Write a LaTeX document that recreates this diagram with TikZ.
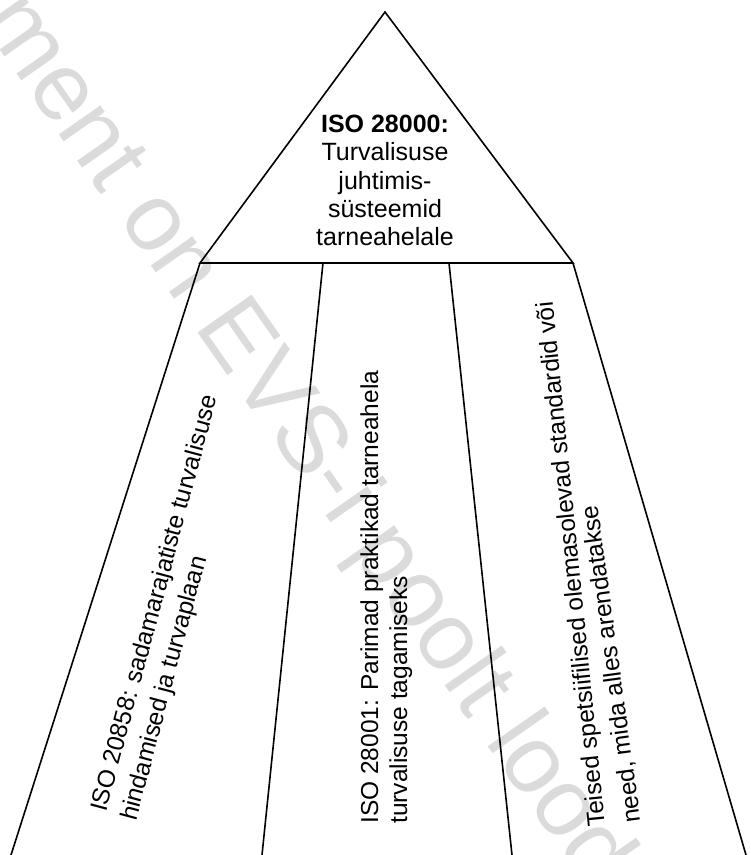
\documentclass[tikz,border=0pt]{standalone}
\usepackage{fontspec}
\setmainfont{Liberation Sans}
\begin{document}
\begin{tikzpicture}[x=1pt,y=-1pt,
  edge/.style={line width=1.6pt, line join=miter},
  titletext/.style={align=center, inner sep=0pt, anchor=north, font=\fontsize{25}{28.3}\selectfont},
  rottext/.style={inner sep=0pt, anchor=base west, font=\fontsize{24.5}{30}\selectfont},
  watermark/.style={text=black!14, inner sep=0pt, anchor=base west, rotate=-55, font=\fontsize{96}{96}\selectfont}]
\useasboundingbox (0,0) rectangle (751,855);
\clip (0,0) rectangle (751,855);
\fill[white] (0,0) rectangle (751,855);
% watermark
\node[watermark] (wm) at (-140,-150) {dokument on EVS-i poolt loodud};
% structure
\coordinate (apex) at (385,12);
\coordinate (bl) at (200,263);
\coordinate (b2) at (323,263);
\coordinate (b3) at (449,263);
\coordinate (br) at (573,263);
\coordinate (f1) at (11,855);
\coordinate (f2) at (262,855);
\coordinate (f3) at (512,855);
\coordinate (f4) at (746,855);
\draw[edge] (apex) -- (bl) -- (br) -- cycle;
\draw[edge] (bl) -- (f1);
\draw[edge] (b2) -- (f2);
\draw[edge] (b3) -- (f3);
\draw[edge] (br) -- (f4);
% texts
\node[titletext] (title) at (385,115) {\textbf{ISO 28000:}\\Turvalisuse\\juhtimis-\\süsteemid\\tarneahelale};
\node[rottext, rotate=75] (t1a) at (106,813) {ISO 20858: sadamarajatiste turvalisuse};
\node[rottext, rotate=75] (t1b) at (136,822) {hindamised ja turvaplaan};
\node[rottext, rotate=90] (t2a) at (378,824) {ISO 28001: Parimad praktikad tarneahela};
\node[rottext, rotate=90] (t2b) at (407,824) {turvalisuse tagamiseks};
\node[rottext, rotate=95.7] (t3a) at (605,826) {Teised spetsiifilised olemasolevad standardid või};
\node[rottext, rotate=97.8] (t3b) at (641,822) {need, mida alles arendatakse};
\end{tikzpicture}
\end{document}
